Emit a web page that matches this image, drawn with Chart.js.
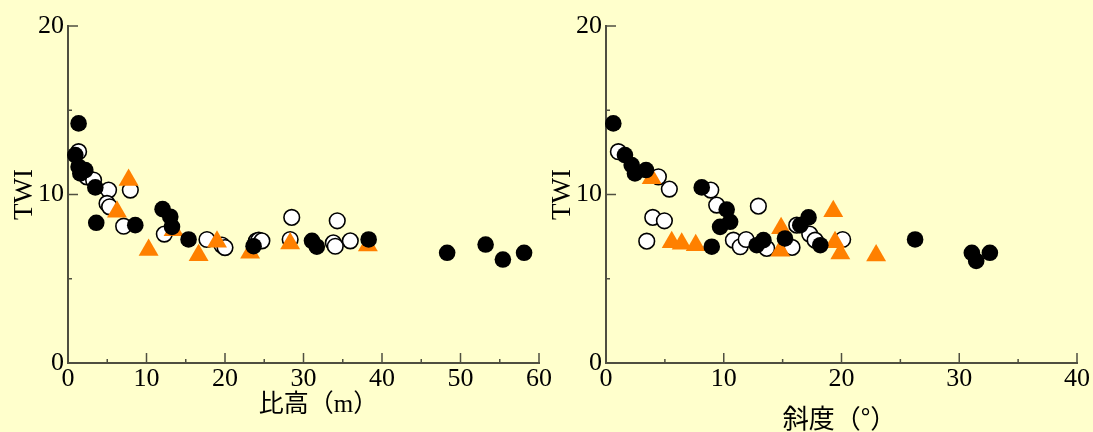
<!DOCTYPE html>
<html>
<head>
<meta charset="utf-8">
<script src="https://cdn.jsdelivr.net/npm/chart.js@4.4.1/dist/chart.umd.min.js"></script>
<style>
  html, body { margin: 0; padding: 0; background: #ffffcc; }
  #wrap { position: relative; width: 1093px; height: 432px; overflow: hidden; }
  canvas { position: absolute; top: 0; }
  #c1 { left: 0; }
  #c2 { left: 538px; }
</style>
</head>
<body>
<div id="wrap">
  <canvas id="c1" width="555" height="432"></canvas>
  <canvas id="c2" width="555" height="432"></canvas>
</div>
<script>
// left panel: 比高 (m) vs TWI
const reliefBlackX = [1.35, 0.93, 1.35, 2.2, 1.57, 3.48, 3.6, 8.57, 12.05, 13.03, 13.25, 15.36, 23.64, 31.08, 31.7, 38.3, 48.3, 53.2, 55.4, 58.1];
const reliefBlackY = [14.22, 12.34, 11.65, 11.45, 11.25, 10.42, 8.32, 8.18, 9.13, 8.68, 8.08, 7.33, 6.93, 7.25, 6.9, 7.33, 6.54, 7.03, 6.14, 6.54];
const reliefWhiteX = [1.35, 2.4, 3.26, 5.17, 4.97, 5.3, 7.09, 7.94, 12.27, 17.7, 19.6, 20.0, 24.0, 24.3, 24.7, 28.5, 28.3, 34.3, 33.8, 34.05, 35.96];
const reliefWhiteY = [12.54, 11.05, 10.86, 10.26, 9.47, 9.27, 8.12, 10.26, 7.65, 7.33, 7.0, 6.85, 7.25, 7.29, 7.25, 8.64, 7.33, 8.44, 7.13, 6.93, 7.25];
const reliefOrangeX = [7.72, 6.24, 10.27, 13.45, 16.64, 18.98, 23.2, 28.3, 38.2];
const reliefOrangeY = [10.86, 8.97, 6.7, 7.88, 6.4, 7.19, 6.54, 7.09, 6.98];

// right panel: 斜度 (°) vs TWI
const slopeBlackX = [0.62, 1.61, 2.18, 2.46, 3.4, 8.13, 8.98, 9.69, 10.25, 10.54, 12.8, 13.37, 15.2, 16.5, 17.2, 18.2, 26.25, 31.07, 31.44, 32.6];
const slopeBlackY = [14.22, 12.34, 11.75, 11.25, 11.45, 10.42, 6.9, 8.08, 9.11, 8.38, 6.99, 7.29, 7.39, 8.18, 8.64, 6.99, 7.33, 6.54, 6.06, 6.54];
const slopeWhiteX = [1.05, 4.45, 5.38, 3.97, 4.96, 3.46, 8.9, 9.4, 12.94, 10.82, 11.4, 11.9, 13.65, 15.8, 16.2, 17.3, 17.76, 20.1];
const slopeWhiteY = [12.54, 11.05, 10.32, 8.64, 8.44, 7.23, 10.26, 9.37, 9.31, 7.29, 6.9, 7.33, 6.8, 6.86, 8.18, 7.65, 7.29, 7.33];
const slopeOrangeX = [3.88, 5.58, 6.43, 7.62, 14.87, 14.8, 19.3, 19.45, 19.9, 22.94];
const slopeOrangeY = [10.96, 7.17, 7.07, 6.99, 8.0, 6.66, 9.0, 7.17, 6.5, 6.38];

const AXIS_COLOR = '#4f4f40';
const SERIF = "'Liberation Serif', 'Times New Roman', serif";

function pts(xs, ys) {
  return xs.map((x, i) => ({ x, y: ys[i] }));
}

// ticks point into the plot, majors every 10, minors every 5; also the x caption
const inwardTicks = {
  id: 'inwardTicks',
  afterDraw(chart, args, opts) {
    const { ctx, chartArea: a, scales: { x, y } } = chart;
    ctx.save();
    ctx.strokeStyle = AXIS_COLOR;
    ctx.lineWidth = 1.5;
    ctx.beginPath();
    x.ticks.forEach(t => {
      const px = x.getPixelForValue(t.value);
      const len = t.value % 10 === 0 ? 10 : 4;
      ctx.moveTo(px, a.bottom);
      ctx.lineTo(px, a.bottom - len);
    });
    y.ticks.forEach(t => {
      const py = y.getPixelForValue(t.value);
      const len = t.value % 10 === 0 ? 10 : 4;
      ctx.moveTo(a.left, py);
      ctx.lineTo(a.left + len, py);
    });
    ctx.stroke();

    ctx.font = opts.font;
    ctx.fillStyle = '#000';
    ctx.textAlign = 'center';
    ctx.textBaseline = 'middle';
    ctx.fillText(opts.text, (a.left + a.right) / 2 + opts.dx, opts.y);
    ctx.restore();
  }
};

function makeChart(id, xMax, black, white, orange, caption) {
  return new Chart(document.getElementById(id), {
    type: 'scatter',
    data: {
      datasets: [
        { data: black, backgroundColor: '#000', borderColor: '#000', borderWidth: 0, pointRadius: 8.3, clip: false },
        { data: orange, pointStyle: 'triangle', backgroundColor: '#ff8000', borderWidth: 0, pointRadius: 11.5, clip: false },
        { data: white, backgroundColor: '#fff', borderColor: '#000', borderWidth: 1.6, pointRadius: 7.8, clip: false }
      ]
    },
    options: {
      responsive: false,
      animation: false,
      events: [],
      layout: { padding: { left: 0, right: 16, top: 26, bottom: 0 } },
      plugins: {
        legend: { display: false },
        tooltip: { enabled: false },
        inwardTicks: caption
      },
      scales: {
        x: {
          type: 'linear', min: 0, max: xMax,
          grid: { display: false, drawTicks: false },
          border: { display: true, color: AXIS_COLOR, width: 2 },
          ticks: {
            stepSize: 5, autoSkip: false, padding: 1, color: '#000',
            font: { family: SERIF, size: 26 },
            callback: v => v % 10 === 0 ? v : ''
          },
          afterFit: s => { s.height = 69; }
        },
        y: {
          type: 'linear', min: 0, max: 20,
          grid: { display: false, drawTicks: false },
          border: { display: true, color: AXIS_COLOR, width: 2 },
          ticks: {
            stepSize: 5, autoSkip: false, padding: 4, color: '#000',
            font: { family: SERIF, size: 26 },
            callback: v => v % 10 === 0 ? v : ''
          },
          title: {
            display: true, text: 'TWI', color: '#000',
            font: { family: SERIF, size: 27 },
            padding: { top: 9, bottom: 0 }
          },
          afterFit: s => { s.width = 68; }
        }
      }
    },
    plugins: [inwardTicks]
  });
}

makeChart('c1', 60,
  pts(reliefBlackX, reliefBlackY), pts(reliefWhiteX, reliefWhiteY), pts(reliefOrangeX, reliefOrangeY),
  { text: '比高（m）', dx: 15, y: 405, font: "25px 'Liberation Serif', 'Noto Sans CJK JP'" });
makeChart('c2', 40,
  pts(slopeBlackX, slopeBlackY), pts(slopeWhiteX, slopeWhiteY), pts(slopeOrangeX, slopeOrangeY),
  { text: '斜度（°）', dx: -2, y: 418, font: "26px 'Noto Sans CJK JP'" });
</script>
</body>
</html>
